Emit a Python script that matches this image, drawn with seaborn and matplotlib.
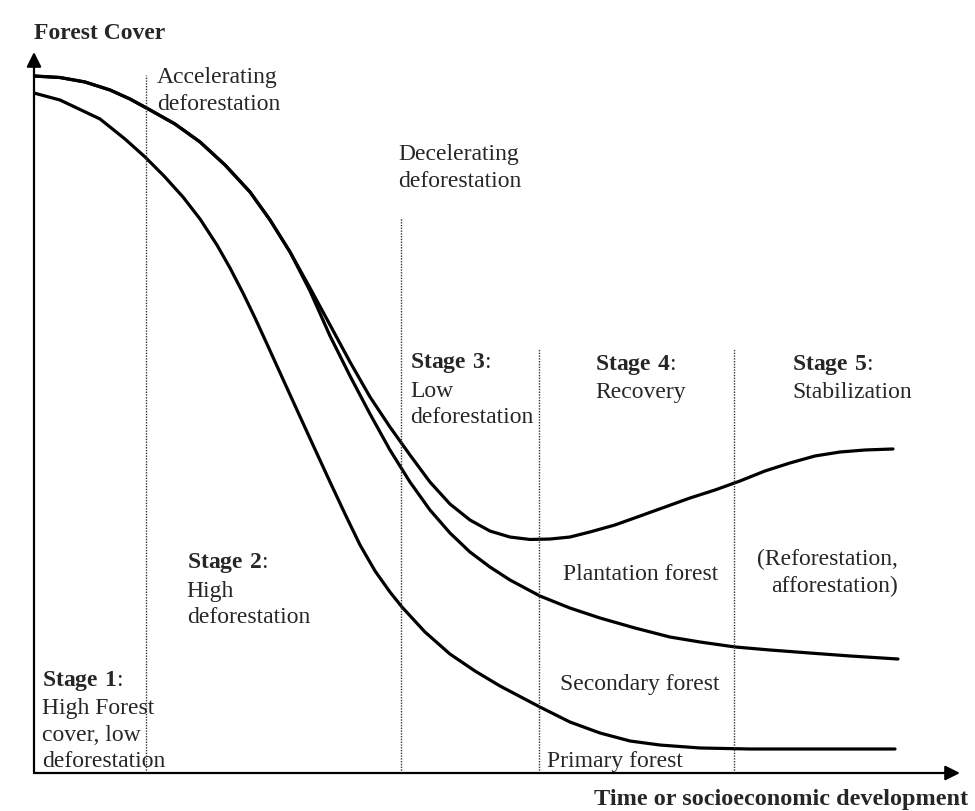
# Curva de transicion forestal (forest transition) - esquema conceptual
import matplotlib
matplotlib.use("Agg")
import matplotlib.pyplot as plt
import seaborn as sns

# Datos (x = tiempo, y = cobertura forestal, escala 0-100)
plantation_x = [0, 2.81, 5.51, 8.21, 10.37, 12.53, 15.23, 17.93, 20.63, 23.33,
                25.49, 27.65, 29.81, 31.97, 34.13, 36.29, 38.44, 40.60, 42.76, 44.92,
                47.08, 49.24, 51.40, 53.56, 55.72, 57.88, 60.04, 62.74, 65.44, 68.14,
                70.84, 73.54, 76.24, 78.94, 81.64, 84.34, 87.04, 89.74, 92.76]
plantation_y = [96.67, 96.46, 95.84, 94.73, 93.48, 91.96, 90.01, 87.52, 84.33, 80.58,
                76.70, 72.26, 67.27, 62.14, 57.00, 52.15, 47.99, 44.11, 40.36, 37.31,
                35.09, 33.56, 32.73, 32.39, 32.45, 32.73, 33.43, 34.40, 35.64, 36.89,
                38.14, 39.25, 40.50, 41.89, 43.00, 43.97, 44.52, 44.80, 44.94]

secondary_x = [0, 2.81, 5.51, 8.21, 10.37, 12.53, 15.23, 17.93, 20.63, 23.33,
               25.49, 27.65, 29.81, 31.97, 34.13, 36.29, 38.44, 40.60, 42.76, 44.92,
               47.08, 49.24, 51.40, 54.64, 57.88, 61.12, 64.90, 68.68, 71.92, 75.70,
               79.48, 83.80, 88.12, 93.30]
secondary_y = [96.67, 96.46, 95.84, 94.73, 93.48, 91.96, 90.01, 87.52, 84.33, 80.58,
               76.70, 72.26, 66.85, 60.61, 55.06, 49.79, 44.80, 40.36, 36.48, 33.29,
               30.65, 28.57, 26.77, 24.55, 22.88, 21.50, 20.11, 18.86, 18.17, 17.48,
               17.06, 16.64, 16.23, 15.81]

primary_x = [0, 2.81, 7.13, 9.83, 11.99, 14.04, 16.09, 17.93, 19.76, 21.17,
             22.57, 23.87, 25.16, 26.78, 28.40, 30.13, 31.97, 33.59, 35.21, 36.83,
             38.44, 39.74, 42.22, 44.92, 47.62, 50.32, 54.64, 57.88, 61.12, 64.36,
             67.60, 71.92, 77.32, 92.98]
primary_y = [94.31, 93.34, 90.71, 87.93, 85.44, 82.80, 79.89, 76.84, 73.23, 70.04,
             66.57, 63.11, 59.50, 54.92, 50.35, 45.49, 40.36, 35.92, 31.62, 28.02,
             25.10, 23.02, 19.56, 16.50, 14.15, 12.07, 9.15, 7.07, 5.55, 4.44,
             3.88, 3.47, 3.33, 3.33]

# limites de etapas (x) y altura de las lineas punteadas
stage_bounds = [12.1, 39.6, 54.5, 75.6]
stage_tops = [96.8, 77.0, 58.8, 58.8]

sns.set_theme(style="white")
plt.rcParams["font.family"] = ["Liberation Serif", "DejaVu Serif"]
plt.rcParams["mathtext.fontset"] = "custom"
plt.rcParams["mathtext.rm"] = "Liberation Serif"
plt.rcParams["mathtext.bf"] = "Liberation Serif:bold"

fig = plt.figure(figsize=(9.75, 8.11), dpi=100)
ax = fig.add_axes([34 / 975, 38 / 811, 926 / 975, 721 / 811])
ax.set_xlim(0, 100)
ax.set_ylim(0, 100)
ax.axis("off")

# curvas
for xs, ys in [(plantation_x, plantation_y), (secondary_x, secondary_y), (primary_x, primary_y)]:
    sns.lineplot(x=xs, y=ys, ax=ax, color="black", linewidth=2.3, sort=False)

# lineas punteadas de etapas
ax.vlines(stage_bounds, 0, stage_tops, colors="#333333", linewidth=1.0,
          linestyles=(0, (1, 1)))

# ejes con flechas
arrow = dict(arrowstyle="-|>", color="black", lw=1.6, mutation_scale=22,
             shrinkA=0, shrinkB=0)
ax.annotate("", xy=(0, 100), xytext=(0, 0), arrowprops=arrow, annotation_clip=False)
ax.annotate("", xy=(100, 0), xytext=(0, 0), arrowprops=arrow, annotation_clip=False)

fs = 17
ls = 1.34
# en textos de varias lineas, y = linea base de la ultima linea
ax.text(0, 101.8, "Forest Cover", fontsize=fs, fontweight="bold", va="baseline")
ax.text(100.9, -4.4, "Time or socioeconomic development", fontsize=17.5,
        fontweight="bold", ha="right", va="baseline")

ax.text(13.3, 92.0, "Accelerating\ndeforestation", fontsize=fs, va="baseline", linespacing=ls)
ax.text(39.3, 81.3, "Decelerating\ndeforestation", fontsize=fs, va="baseline", linespacing=ls)

ax.text(0.86, 0.83, "$\\mathbf{Stage\\ 1}$:\nHigh Forest\ncover, low\ndeforestation",
        fontsize=fs, va="baseline", linespacing=ls)
ax.text(16.5, 20.8, "$\\mathbf{Stage\\ 2}$:\nHigh\ndeforestation",
        fontsize=fs, va="baseline", linespacing=ls)
ax.text(40.6, 48.5, "$\\mathbf{Stage\\ 3}$:\nLow\ndeforestation",
        fontsize=fs, va="baseline", linespacing=ls)
ax.text(60.6, 52.0, "$\\mathbf{Stage\\ 4}$:\nRecovery",
        fontsize=fs, va="baseline", linespacing=ls)
ax.text(81.9, 52.0, "$\\mathbf{Stage\\ 5}$:\nStabilization",
        fontsize=fs, va="baseline", linespacing=ls)

ax.text(57.1, 26.8, "Plantation forest", fontsize=fs, va="baseline")
ax.text(93.3, 25.1, "(Reforestation,\nafforestation)", fontsize=fs, va="baseline",
        ha="right", multialignment="right", linespacing=ls)
ax.text(56.8, 11.5, "Secondary forest", fontsize=fs, va="baseline")
ax.text(55.4, 0.83, "Primary forest", fontsize=fs, va="baseline")

fig.savefig("out.png", dpi=100)
